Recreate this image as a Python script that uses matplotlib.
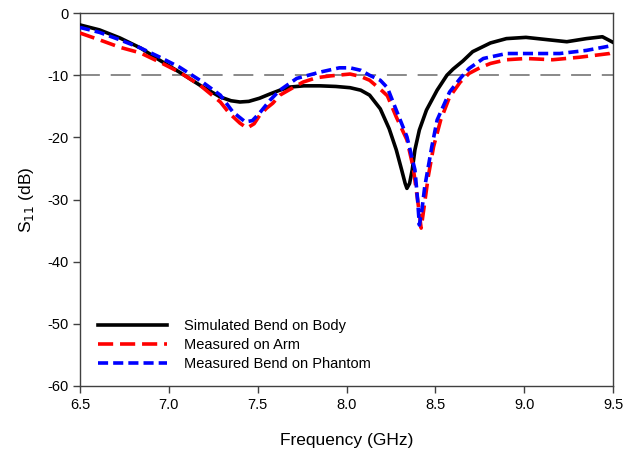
import matplotlib.pyplot as plt
import numpy as np

plt.rcParams['font.family'] = ['Liberation Sans', 'DejaVu Sans']
plt.rcParams['axes.unicode_minus'] = False

# Simulated bend on body
f_sim = [6.5, 6.61, 6.725, 6.84, 6.95, 7.06, 7.175, 7.29, 7.35, 7.4, 7.45, 7.51,
         7.57, 7.625, 7.68, 7.76, 7.85, 7.94, 8.02, 8.08, 8.13, 8.19, 8.24, 8.28,
         8.31, 8.33, 8.34, 8.355, 8.37, 8.385, 8.41, 8.45, 8.51, 8.565, 8.6, 8.655,
         8.71, 8.81, 8.9, 9.01, 9.14, 9.24, 9.35, 9.44, 9.5]
s_sim = [-1.9, -2.7, -4.0, -5.6, -7.6, -9.5, -11.6, -13.5, -14.1, -14.3, -14.2,
         -13.7, -13.0, -12.4, -11.9, -11.7, -11.7, -11.8, -12.0, -12.4, -13.2,
         -15.4, -18.6, -22.0, -25.2, -27.4, -28.2, -27.4, -25.2, -22.0, -18.8,
         -15.6, -12.4, -10.0, -9.0, -7.7, -6.2, -4.8, -4.1, -3.9, -4.3, -4.6,
         -4.1, -3.8, -4.7]

# Measured on arm
f_arm = [6.5, 6.61, 6.725, 6.84, 6.95, 7.06, 7.175, 7.29, 7.34, 7.4, 7.44, 7.48,
         7.51, 7.55, 7.585, 7.625, 7.68, 7.755, 7.83, 7.91, 8.02, 8.08, 8.13,
         8.2, 8.23, 8.28, 8.34, 8.375, 8.4, 8.42, 8.44, 8.46, 8.49, 8.53, 8.58,
         8.64, 8.69, 8.75, 8.81, 8.9, 9.01, 9.16, 9.31, 9.48, 9.5]
s_arm = [-3.2, -4.3, -5.5, -6.4, -7.9, -9.5, -11.6, -14.3, -16.1, -17.7, -18.5,
         -17.8, -16.5, -15.3, -14.5, -13.2, -12.3, -11.1, -10.4, -10.1, -9.8,
         -10.2, -10.8, -12.5, -13.3, -16.7, -20.4, -24.8, -30.0, -34.6, -30.5,
         -26.3, -21.5, -17.2, -13.5, -11.1, -9.7, -8.8, -8.1, -7.5, -7.3, -7.5,
         -7.1, -6.5, -6.3]

# Measured bend on phantom
f_ph = [6.5, 6.61, 6.725, 6.84, 6.95, 7.06, 7.175, 7.29, 7.36, 7.43, 7.47, 7.51,
        7.57, 7.625, 7.72, 7.85, 7.96, 8.02, 8.08, 8.13, 8.19, 8.23, 8.28, 8.34,
        8.385, 8.4, 8.41, 8.425, 8.44, 8.48, 8.51, 8.58, 8.64, 8.69, 8.77, 8.9,
        9.05, 9.2, 9.35, 9.48, 9.5]
s_ph = [-2.3, -3.1, -4.3, -5.6, -7.1, -8.7, -10.8, -13.2, -15.9, -17.5, -17.3,
        -16.1, -14.0, -12.4, -10.5, -9.5, -8.8, -8.8, -9.2, -10.0, -10.8, -12.0,
        -15.6, -19.9, -25.2, -30.0, -34.1, -31.5, -28.0, -21.5, -17.2, -12.7,
        -10.5, -8.9, -7.3, -6.5, -6.5, -6.5, -6.0, -5.3, -5.1]

fig = plt.figure(figsize=(6.23, 4.53), dpi=100)
ax = fig.add_axes([0.1284, 0.148, 0.8556, 0.823])

ax.axhline(-10, color='#808080', linewidth=1.3, dashes=(11, 6), zorder=1)
ax.plot(f_sim, s_sim, color='black', linewidth=2.6, solid_joinstyle='round',
        label='Simulated Bend on Body', zorder=3)
ax.plot(f_arm, s_arm, color='red', linewidth=2.6, dashes=(4.2, 1.9),
        dash_joinstyle='round', label='Measured on Arm', zorder=4)
ax.plot(f_ph, s_ph, color='blue', linewidth=2.6, dashes=(2.8, 1.4),
        dash_joinstyle='round', label='Measured Bend on Phantom', zorder=5)

ax.set_xlim(6.5, 9.5)
ax.set_ylim(-60, 0)
ax.set_xticks(np.arange(6.5, 9.51, 0.5))
ax.set_xticklabels(['6.5', '7.0', '7.5', '8.0', '8.5', '9.0', '9.5'])
ax.set_yticks(np.arange(-60, 1, 10))
ax.tick_params(direction='out', length=5, width=1, labelsize=10.5, top=False, right=False,
               color='#404040')
for sp in ax.spines.values():
    sp.set_color('#404040')
    sp.set_linewidth(1)

ax.set_xlabel('Frequency (GHz)', fontsize=12.5, labelpad=15)
ax.set_ylabel('S$_{11}$ (dB)', fontsize=12.5, labelpad=8)

ax.legend(loc='lower left', bbox_to_anchor=(0.01, 0.005), frameon=False, fontsize=10.5,
          handlelength=4.7, handletextpad=1.2, labelspacing=0.35)

fig.savefig('out.png', dpi=100)
